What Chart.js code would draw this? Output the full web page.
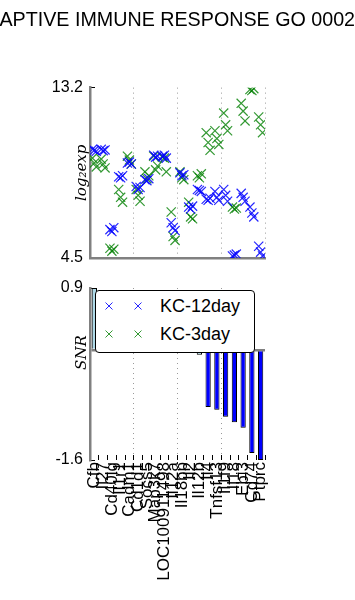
<!DOCTYPE html>
<html>
<head>
<meta charset="utf-8">
<script src="https://cdn.jsdelivr.net/npm/chart.js@4.4.1/dist/chart.umd.min.js"></script>
<style>
  html, body { margin:0; padding:0; width:355px; height:600px; overflow:hidden; background:#fff; position:relative; }
  #topWrap { position:absolute; left:-60px; top:0; width:480px; height:270px; }
  #botWrap { position:absolute; left:0; top:270px; width:355px; height:330px; }
  #legend { position:absolute; left:95px; top:290px; width:160px; height:63px; box-sizing:border-box;
            border:1px solid #000; border-radius:4px; background:#fff;
            font-family:'Liberation Sans', Arial, sans-serif; font-size:18px; color:#000; }
  .row { position:absolute; left:0; width:158px; height:20px; }
  .mk { position:absolute; top:6px; width:8px; height:8px; }
  .lbl { position:absolute; left:64px; top:0; line-height:20px; white-space:nowrap; }
</style>
</head>
<body>
<div id="topWrap"><canvas id="topChart" width="480" height="270"></canvas></div>
<div id="botWrap"><canvas id="botChart" width="355" height="330"></canvas></div>
<div id="legend"></div>
<script>
// ---------------- data ----------------
const titleText = 'ADAPTIVE IMMUNE RESPONSE GO 0002250';
const genes = ['Cfb','Il27','Cd40lg','Il1r1','Cadm1','Cd1d1','Socs5','Map3k7','LOC100911498','Il12a',
               'Il18bp','Il2','Il12b','Il4','Tnfsf13','Il1f9','Il18','Ebi3','Cd74','Ptprc'];
// log2 expression, replicates per gene
const kc12day = [
  [10.05,10.0,9.95],[10.05,9.98,10.02],[5.95,5.85,6.05],[8.65,8.6,8.7],[9.35,9.4,9.3],
  [8.15,8.0,8.1],[8.5,8.45,8.55],[9.75,9.65,9.7],[9.7,9.75,9.6],[6.3,6.05,5.9],
  [8.85,8.7,8.75],[7.1,7.0,7.15],[8.0,7.95,7.9],[7.5,7.45,7.55],[7.9,7.6,7.45],
  [8.0,7.7,7.4],[4.6,4.65,4.7],[7.8,7.6,7.4],[7.1,6.8,6.6],[5.1,4.8,4.6]
];
const kc3day = [
  [9.6,9.35,9.15],[9.55,9.3,9.1],[5.0,4.85,4.95],[8.0,7.6,7.35],[9.7,9.5,9.3],
  [8.0,7.7,7.4],[8.9,8.55,8.7],[9.7,9.0,9.2],[9.65,9.6,8.9],[6.85,5.6,5.4],
  [8.9,8.6,8.5],[7.35,6.6,6.5],[8.7,8.6,8.8],[10.9,10.4,10.0],[11.0,10.6,10.3],
  [11.9,11.3,11.0],[7.1,7.0,7.05],[12.4,12.0,11.5],[13.1,13.05,13.15],[11.7,11.3,10.9]
];
const snr = [0.9,0.62,0.55,0.5,0.45,0.38,0.32,0.27,0.22,0.17,0.12,0.06,-0.07,
             -0.83,-0.87,-0.97,-1.05,-1.13,-1.50,-1.60];
const topTicks = [4.5, 13.2];
const botTicks = [-1.6, 0, 0.9];
const groupLines = [4.5, 9.5, 14.5, 19.5];

// ---------------- helpers ----------------
Chart.defaults.font.family = "'Liberation Sans', Arial, sans-serif";
Chart.defaults.color = '#000';
const AXIS = '#808080';
const DOT = '#9a9a9a';
const BLUE = 'rgba(0,0,255,0.85)';
const GREEN = 'rgba(0,128,0,0.8)';
const SERIF = "'DejaVu Serif', 'Liberation Serif', serif";
function toPoints(series) {
  const pts = [];
  series.forEach((vals, i) => vals.forEach((v, j) => pts.push({x: i + (j - 1) * 0.22, y: v})));
  return pts;
}
const setTicks = arr => s => { s.ticks = arr.map(v => ({value: v})); };
const fmt = v => Number(v).toFixed(1);

// ---------------- top: log2 expression ----------------
const topChart = new Chart(document.getElementById('topChart'), {
  type: 'scatter',
  data: { datasets: [
    { label: 'KC-12day', data: toPoints(kc12day), pointStyle: 'crossRot', pointRadius: 6.5,
      borderColor: BLUE, backgroundColor: BLUE, pointBorderWidth: 1.2 },
    { label: 'KC-3day', data: toPoints(kc3day), pointStyle: 'crossRot', pointRadius: 6.5,
      borderColor: GREEN, backgroundColor: GREEN, pointBorderWidth: 1.2 }
  ]},
  options: {
    responsive: false, animation: false, events: [],
    layout: { padding: 0 },
    plugins: {
      legend: { display: false }, tooltip: { enabled: false },
      title: { display: true, text: titleText, color: '#000',
               font: { size: 19.7, weight: 'normal' }, padding: { top: 9, bottom: 55 } }
    },
    scales: {
      x: { type: 'linear', min: -0.5, max: 19.5, afterBuildTicks: setTicks(groupLines),
           ticks: { display: false },
           grid: { color: DOT, lineWidth: 1, drawTicks: false },
           border: { display: true, color: AXIS, width: 2.5, dash: [1, 4] },
           afterFit: s => { s.height = 12; } },
      y: { min: 4.5, max: 13.2, afterBuildTicks: setTicks(topTicks),
           ticks: { callback: fmt, font: { size: 16 }, color: '#000', padding: 2 },
           grid: { display: true, drawOnChartArea: false, drawTicks: true, tickLength: 5,
                   tickColor: 'rgba(0,0,0,0)', color: 'rgba(0,0,0,0)' },
           border: { display: true, color: AXIS, width: 2.5 },
           title: { display: true, text: 'log\u2082exp', color: '#000',
                    font: { family: SERIF, style: 'italic', size: 15 },
                    padding: { top: 133, bottom: 0 } },
           afterFit: s => { s.width = 150; } },
      yMark: { position: { x: 0.071 }, min: 4.5, max: 13.2, afterBuildTicks: setTicks(topTicks),
           ticks: { display: false },
           grid: { drawOnChartArea: false, drawTicks: true, tickLength: 5, tickColor: '#000', tickWidth: 1 },
           border: { display: false } },
      yRight: { position: 'right', ticks: { display: false }, grid: { display: false },
           border: { display: false }, afterFit: s => { s.width = 155; } }
    }
  }
});

// ---------------- bottom: SNR bars ----------------
new Chart(document.getElementById('botChart'), {
  type: 'bar',
  data: { labels: genes, datasets: [{
    label: 'SNR', data: snr,
    backgroundColor: snr.map((v, i) => i <= 12 ? '#add8e6' : '#0000ff'),
    borderColor: '#000', borderWidth: 1, barPercentage: 0.6, categoryPercentage: 1
  }]},
  options: {
    responsive: false, animation: false, events: [],
    layout: { padding: { left: 0, right: 90, top: 18, bottom: 0 } },
    plugins: { legend: { display: false }, tooltip: { enabled: false } },
    scales: {
      x: { ticks: { font: { size: 17 }, color: '#000', minRotation: 90, maxRotation: 90,
                    autoSkip: false, padding: 2 },
           grid: { offset: true, drawTicks: false, lineWidth: 1,
                   color: c => [5, 10, 15].includes(c.index) ? DOT : 'rgba(0,0,0,0)' },
           border: { display: false, dash: [1, 4] },
           afterFit: s => { s.height = 140; } },
      xMark: { type: 'category', position: { y: -1.527 }, offset: true,
           ticks: { display: false },
           grid: { offset: true, drawOnChartArea: false, drawTicks: true, tickLength: 5,
                   tickColor: '#000', tickWidth: 1 },
           border: { display: false } },
      y: { min: -1.6, max: 0.9, afterBuildTicks: setTicks(botTicks),
           ticks: { callback: v => (v === 0 ? '' : fmt(v)), font: { size: 16 }, color: '#000', padding: 2 },
           grid: { drawTicks: true, tickLength: 5, tickColor: 'rgba(0,0,0,0)', lineWidth: 2.5,
                   color: c => (c.tick && c.tick.value === 0) ? AXIS : 'rgba(0,0,0,0)' },
           border: { display: true, color: AXIS, width: 2.5 },
           title: { display: true, text: '         SNR', color: '#000',
                    font: { family: SERIF, style: 'italic', size: 15 },
                    padding: { top: 73, bottom: 0 } },
           afterFit: s => { s.width = 90; } },
      yMark: { position: { x: 0.071 }, min: -1.6, max: 0.9, afterBuildTicks: setTicks([-1.6, 0.9]),
           ticks: { display: false },
           grid: { drawOnChartArea: false, drawTicks: true, tickLength: 5, tickColor: '#000', tickWidth: 1 },
           border: { display: false } }
    }
  }
});

// ---------------- legend (built from the scatter datasets) ----------------
(function buildLegend(chart) {
  const box = document.getElementById('legend');
  const rowTops = [5, 33];
  chart.data.datasets.forEach((ds, k) => {
    const row = document.createElement('div');
    row.className = 'row';
    row.style.top = rowTops[k] + 'px';
    [9, 38].forEach(x => {
      const svg = document.createElementNS('http://www.w3.org/2000/svg', 'svg');
      svg.setAttribute('class', 'mk');
      svg.setAttribute('viewBox', '0 0 8 8');
      svg.style.left = x + 'px';
      svg.innerHTML = '<line x1="0.5" y1="0.5" x2="7.5" y2="7.5" stroke="' + ds.borderColor +
        '" stroke-width="1"/><line x1="7.5" y1="0.5" x2="0.5" y2="7.5" stroke="' + ds.borderColor + '" stroke-width="1"/>';
      row.appendChild(svg);
    });
    const t = document.createElement('span');
    t.className = 'lbl';
    t.textContent = ds.label;
    row.appendChild(t);
    box.appendChild(row);
  });
})(topChart);
</script>
</body>
</html>
